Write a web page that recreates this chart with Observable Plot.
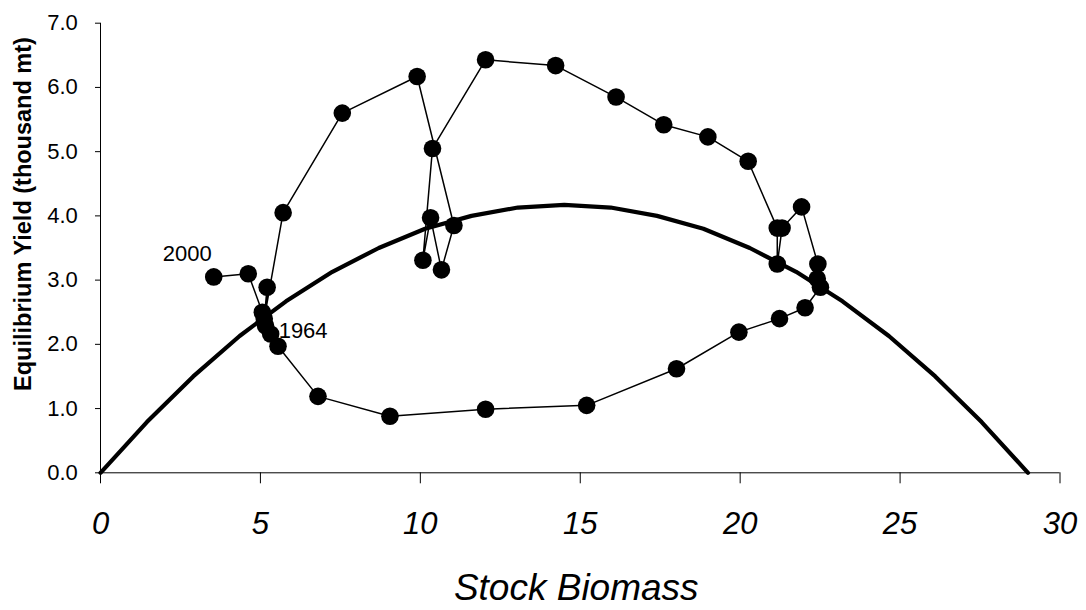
<!DOCTYPE html>
<html>
<head>
<meta charset="utf-8">
<script src="https://cdn.jsdelivr.net/npm/d3@7"></script>
<script src="https://cdn.jsdelivr.net/npm/@observablehq/plot@0.6"></script>
<style>
  html, body { margin: 0; padding: 0; background: #fff; }
  #chart svg { display: block; }
</style>
</head>
<body>
<div id="chart"></div>
<script>
// Yearly trajectory (stock biomass vs yield), 1964–2000
const years = [1964,1965,1966,1967,1968,1969,1970,1971,1972,1973,1974,1975,1976,1977,1978,1979,1980,1981,1982,1983,1984,1985,1986,1987,1988,1989,1990,1991,1992,1993,1994,1995,1996,1997,1998,1999,2000];
const biomass = [5.32,5.55,6.80,9.05,12.04,15.20,18.01,19.96,21.23,22.03,22.51,22.41,22.43,21.92,21.31,21.16,21.16,20.25,18.99,17.61,16.12,14.23,12.04,10.38,10.08,10.32,10.66,11.05,9.90,7.56,5.71,5.12,5.21,5.16,5.06,4.62,3.54];
const yields  = [2.16,1.97,1.19,0.88,0.99,1.05,1.62,2.19,2.40,2.57,2.89,3.02,3.25,4.14,3.81,3.25,3.81,4.85,5.23,5.42,5.85,6.34,6.43,5.05,3.31,3.97,3.16,3.85,6.17,5.60,4.05,2.40,2.89,2.29,2.50,3.10,3.05];

// Equilibrium yield curve
const curveBiomass = [0,1.45,2.9,4.35,5.8,7.25,8.7,10.15,11.6,13.05,14.5,15.95,17.4,18.85,20.3,21.75,23.2,24.65,26.1,27.55,29];
const curveYield   = [0,0.79,1.50,2.13,2.67,3.13,3.50,3.80,4.00,4.13,4.17,4.13,4.00,3.80,3.50,3.13,2.67,2.13,1.50,0.79,0];

// Axis ticks and labels
const xTicks = [0,5,10,15,20,25,30];
const yTicks = [0,1,2,3,4,5,6,7];
const xTitle = "Stock Biomass";
const yTitle = "Equilibrium Yield (thousand mt)";
const labelYears = [1964, 2000];

const traj = years.map((yr, i) => ({year: yr, b: biomass[i], y: yields[i]}));
const curve = curveBiomass.map((b, i) => ({b, y: curveYield[i]}));
const first = traj.filter(d => d.year === labelYears[0]);
const last = traj.filter(d => d.year === labelYears[1]);

const chart = Plot.plot({
  width: 1086,
  height: 610,
  marginLeft: 100,
  marginRight: 26.5,
  marginTop: 22.7,
  marginBottom: 137.7,
  style: {fontFamily: "'Liberation Sans', Arial, sans-serif", background: "white", color: "black"},
  x: {domain: [0, 30]},
  y: {domain: [0, 7]},
  marks: [
    Plot.ruleX([0], {stroke: "black", strokeWidth: 1}),
    Plot.ruleY([0], {stroke: "black", strokeWidth: 1}),
    Plot.axisY({ticks: yTicks, tickFormat: d => d.toFixed(1), tickSize: 5, tickPadding: 17.7, fontSize: 22, label: null, stroke: "black", strokeOpacity: 1}),
    Plot.axisX({ticks: xTicks, tickFormat: d => String(d), tickSize: 11, tickPadding: 28.4, fontSize: 31, fontStyle: "italic", label: null, stroke: "black", strokeOpacity: 1}),
    Plot.line(curve, {x: "b", y: "y", stroke: "black", strokeWidth: 4.2, curve: "linear"}),
    Plot.line(traj, {x: "b", y: "y", stroke: "black", strokeWidth: 1.5}),
    Plot.dot(traj, {x: "b", y: "y", r: 8.8, fill: "black", stroke: "none"}),
    Plot.text(last, {x: "b", y: "y", text: d => String(d.year), textAnchor: "end", lineAnchor: "middle", dx: -2, dy: -22.5, fontSize: 22, fill: "black"}),
    Plot.text(first, {x: "b", y: "y", text: d => String(d.year), textAnchor: "start", lineAnchor: "middle", dx: 8, dy: -3, fontSize: 22, fill: "black"}),
    Plot.text([xTitle], {frameAnchor: "bottom", text: d => d, textAnchor: "middle", lineAnchor: "middle", dx: -4, dy: 115.5, fontSize: 37, fontStyle: "italic", fill: "black"}),
    Plot.text([yTitle], {frameAnchor: "left", text: d => d, textAnchor: "middle", lineAnchor: "middle", rotate: -90, dx: -77, dy: -34, fontSize: 23.5, fontWeight: "bold", fill: "black"})
  ]
});
document.getElementById("chart").appendChild(chart);
</script>
</body>
</html>
